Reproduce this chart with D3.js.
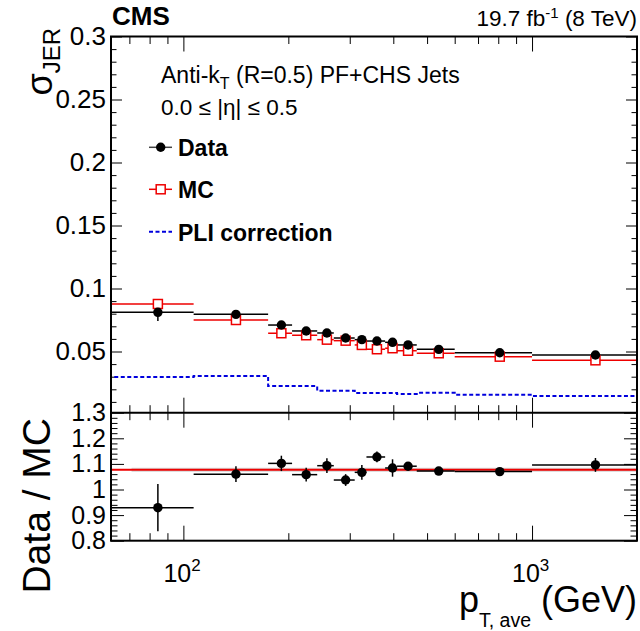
<!DOCTYPE html>
<html>
<head>
<meta charset="utf-8">
<script src="https://cdn.jsdelivr.net/npm/d3@7/dist/d3.min.js"></script>
<style>
  body { margin: 0; background: #fff; }
  text { font-family: 'Liberation Sans', Arial, Helvetica, sans-serif; fill: #000; }
</style>
</head>
<body>
<div id="chart"></div>
<script>
// pT,ave bins (GeV) and mean pT of each bin
const binEdges = [62, 107, 175, 205, 242, 270, 310, 335, 379, 410, 467, 600, 1000, 2000]
const ptMean = [84.5, 141.5, 191, 225, 258, 292, 325, 359, 398, 441, 540, 808, 1520]

// sigma_JER, data and MC
const dataJER = [0.0811, 0.0795, 0.0710, 0.0663, 0.0647, 0.0607, 0.0594, 0.0583, 0.0573, 0.0552, 0.0517, 0.0490, 0.0472]
const dataErr = [0.0069, 0.0015, 0.0012, 0.0012, 0.0012, 0.0010, 0.0012, 0.0010, 0.0014, 0.0008, 0.0006, 0.0006, 0.0012]
const mcJER = [0.0877, 0.0750, 0.0645, 0.0629, 0.0594, 0.0586, 0.0552, 0.0518, 0.0526, 0.0506, 0.0486, 0.0459, 0.0430]

// PLI correction
const pliJER = [0.0298, 0.0306, 0.0226, 0.0226, 0.0189, 0.0189, 0.0171, 0.0171, 0.0171, 0.0163, 0.0172, 0.0157, 0.0147]

// Data / MC
const ratio = [0.929, 1.060, 1.102, 1.058, 1.093, 1.037, 1.067, 1.127, 1.084, 1.091, 1.072, 1.070, 1.096]
const ratioErr = [0.092, 0.031, 0.030, 0.027, 0.029, 0.023, 0.029, 0.021, 0.034, 0.016, 0.010, 0.010, 0.027]
const ratioFit = 1.077

const yTicksTop = [0.05, 0.1, 0.15, 0.2, 0.25, 0.3]
const yTicksBot = [0.8, 0.9, 1, 1.1, 1.2, 1.3]
const xMinor = [70, 80, 90, 200, 300, 400, 500, 600, 700, 800, 900]
const xMajor = [100, 1000]

const W = 640
const H = 631
const padL = 111
const padR = 637
const padT = 36.5
const yMid = 412.7
const padB = 540.7

const svg = d3
  .select('#chart')
  .append('svg')
  .attr('width', W)
  .attr('height', H)

const x = d3.scaleLog().domain([62, 2000]).range([padL, padR])
const yTop = d3.scaleLinear().domain([0.3 - (yMid - padT) / 1260, 0.3]).range([yMid, padT])
const yBot = d3.scaleLinear().domain([0.8, 1.3]).range([padB, yMid])

const red = '#ee0000'
const blue = '#0000dd'

// ---- ticks (ROOT style, inside the frame) ----
function ticks(g, axis) {
  g.call(axis)
  g.select('.domain').remove()
  g.selectAll('line').attr('stroke', '#000').attr('stroke-width', 1)
}

const topMinor = d3.range(1, 30).map(d => d / 100).filter(d => !yTicksTop.includes(+d.toFixed(2)))
const botMinor = d3.range(40, 66).map(d => d / 50).filter(d => Math.abs(d * 10 - Math.round(d * 10)) > 1e-6)

// left / right y ticks, upper panel
svg.append('g').attr('transform', `translate(${padL},0)`)
  .call(g => ticks(g, d3.axisLeft(yTop).tickValues(topMinor).tickSize(-5.5).tickFormat('')))
svg.append('g').attr('transform', `translate(${padL},0)`)
  .call(g => ticks(g, d3.axisLeft(yTop).tickValues(yTicksTop).tickSize(-11).tickFormat('')))
svg.append('g').attr('transform', `translate(${padR},0)`)
  .call(g => ticks(g, d3.axisRight(yTop).tickValues(topMinor).tickSize(-5.5).tickFormat('')))
svg.append('g').attr('transform', `translate(${padR},0)`)
  .call(g => ticks(g, d3.axisRight(yTop).tickValues(yTicksTop).tickSize(-11).tickFormat('')))

// lower panel y ticks
svg.append('g').attr('transform', `translate(${padL},0)`)
  .call(g => ticks(g, d3.axisLeft(yBot).tickValues(botMinor).tickSize(-6.5).tickFormat('')))
svg.append('g').attr('transform', `translate(${padL},0)`)
  .call(g => ticks(g, d3.axisLeft(yBot).tickValues(yTicksBot).tickSize(-13).tickFormat('')))
svg.append('g').attr('transform', `translate(${padR},0)`)
  .call(g => ticks(g, d3.axisRight(yBot).tickValues(botMinor).tickSize(-6.5).tickFormat('')))
svg.append('g').attr('transform', `translate(${padR},0)`)
  .call(g => ticks(g, d3.axisRight(yBot).tickValues(yTicksBot).tickSize(-13).tickFormat('')))

// x ticks on each horizontal frame line
const xLines = [[padT, 'down'], [yMid, 'up'], [yMid, 'down'], [padB, 'up']]
xLines.forEach(([yy, dir]) => {
  const mk = dir === 'down' ? d3.axisTop : d3.axisBottom
  svg.append('g').attr('transform', `translate(0,${yy})`)
    .call(g => ticks(g, mk(x).tickValues(xMinor).tickSize(-7.5).tickFormat('')))
  svg.append('g').attr('transform', `translate(0,${yy})`)
    .call(g => ticks(g, mk(x).tickValues(xMajor).tickSize(-15).tickFormat('')))
})

// y tick labels
svg.append('g').attr('transform', `translate(${padL},0)`)
  .call(d3.axisLeft(yTop).tickValues(yTicksTop).tickSize(0).tickPadding(5).tickFormat(d3.format('')))
  .call(g => g.select('.domain').remove())
  .selectAll('text').attr('font-size', 26).attr('font-family', null)
svg.append('g').attr('transform', `translate(${padL},0)`)
  .call(d3.axisLeft(yBot).tickValues(yTicksBot).tickSize(0).tickPadding(5).tickFormat(d3.format('')))
  .call(g => g.select('.domain').remove())
  .selectAll('text').attr('font-size', 25).attr('font-family', null)

// x tick labels 10^n
xMajor.forEach(v => {
  const t = svg.append('text')
    .attr('x', x(v) - 20)
    .attr('y', 582)
    .attr('font-size', 25)
  t.append('tspan').text('10')
  t.append('tspan').attr('dy', -11).attr('font-size', 17).text(Math.round(Math.log10(v)))
})

// ---- upper panel ----
const upper = svg.append('g')
upper.append('defs').append('clipPath').attr('id', 'clipTop')
  .append('rect').attr('x', padL).attr('y', padT).attr('width', padR - padL).attr('height', yMid - padT)

// PLI correction step line
const pliPts = [[binEdges[0], yTop.domain()[0]]]
pliJER.forEach((v, i) => {
  pliPts.push([binEdges[i], v])
  pliPts.push([binEdges[i + 1], v])
})
upper.append('path')
  .datum(pliPts)
  .attr('clip-path', 'url(#clipTop)')
  .attr('fill', 'none')
  .attr('stroke', blue)
  .attr('stroke-width', 2)
  .attr('stroke-dasharray', '4,2.5')
  .attr('d', d3.line().x(d => x(d[0])).y(d => yTop(d[1])))

// data bins
const bins = d3.range(ptMean.length)
upper.selectAll('.dbin').data(bins).enter().append('line')
  .attr('x1', i => x(binEdges[i])).attr('x2', i => x(binEdges[i + 1]))
  .attr('y1', i => yTop(dataJER[i])).attr('y2', i => yTop(dataJER[i]))
  .attr('stroke', '#000').attr('stroke-width', 1.5)
upper.selectAll('.mbin').data(bins).enter().append('line')
  .attr('x1', i => x(binEdges[i])).attr('x2', i => x(binEdges[i + 1]))
  .attr('y1', i => yTop(mcJER[i])).attr('y2', i => yTop(mcJER[i]))
  .attr('stroke', red).attr('stroke-width', 1.5)
upper.selectAll('.derr').data(bins).enter().append('line')
  .attr('x1', i => x(ptMean[i])).attr('x2', i => x(ptMean[i]))
  .attr('y1', i => yTop(dataJER[i] - dataErr[i])).attr('y2', i => yTop(dataJER[i] + dataErr[i]))
  .attr('stroke', '#000').attr('stroke-width', 1.5)
upper.selectAll('.msq').data(bins).enter().append('rect')
  .attr('x', i => x(ptMean[i]) - 4.5).attr('y', i => yTop(mcJER[i]) - 4.5)
  .attr('width', 9).attr('height', 9)
  .attr('fill', '#fff').attr('stroke', red).attr('stroke-width', 1.5)
upper.selectAll('.dpt').data(bins).enter().append('circle')
  .attr('cx', i => x(ptMean[i])).attr('cy', i => yTop(dataJER[i]))
  .attr('r', 4.7).attr('fill', '#000')

// ---- lower panel ----
const lower = svg.append('g')
lower.append('rect')
  .attr('x', x(71)).attr('y', yBot(ratioFit + 0.008))
  .attr('width', x(2000) - x(71)).attr('height', yBot(ratioFit - 0.008) - yBot(ratioFit + 0.008))
  .attr('fill', '#d8d8d8')
lower.append('line')
  .attr('x1', x(62)).attr('x2', x(2000))
  .attr('y1', yBot(ratioFit)).attr('y2', yBot(ratioFit))
  .attr('stroke', red).attr('stroke-width', 2)
lower.selectAll('.rbin').data(bins).enter().append('line')
  .attr('x1', i => x(binEdges[i])).attr('x2', i => x(binEdges[i + 1]))
  .attr('y1', i => yBot(ratio[i])).attr('y2', i => yBot(ratio[i]))
  .attr('stroke', '#000').attr('stroke-width', 1.5)
lower.selectAll('.rerr').data(bins).enter().append('line')
  .attr('x1', i => x(ptMean[i])).attr('x2', i => x(ptMean[i]))
  .attr('y1', i => yBot(ratio[i] - ratioErr[i])).attr('y2', i => yBot(ratio[i] + ratioErr[i]))
  .attr('stroke', '#000').attr('stroke-width', 1.5)
lower.selectAll('.rpt').data(bins).enter().append('circle')
  .attr('cx', i => x(ptMean[i])).attr('cy', i => yBot(ratio[i]))
  .attr('r', 4.7).attr('fill', '#000')

// frames
svg.append('rect').attr('x', padL).attr('y', padT).attr('width', padR - padL).attr('height', padB - padT)
  .attr('fill', 'none').attr('stroke', '#000').attr('stroke-width', 2)
svg.append('line').attr('x1', padL).attr('x2', padR).attr('y1', yMid).attr('y2', yMid)
  .attr('stroke', '#000').attr('stroke-width', 2)

// ---- texts ----
svg.append('text').attr('x', 112).attr('y', 25).attr('font-size', 26).attr('font-weight', 'bold').text('CMS')
const lumi = svg.append('text').attr('x', 637).attr('y', 26).attr('font-size', 22.5).attr('text-anchor', 'end')
lumi.append('tspan').text('19.7 fb')
lumi.append('tspan').attr('dy', -8).attr('font-size', 15).text('-1')
lumi.append('tspan').attr('dy', 8).text(' (8 TeV)')

const l1 = svg.append('text').attr('x', 161).attr('y', 82.5).attr('font-size', 23)
l1.append('tspan').text('Anti-k')
l1.append('tspan').attr('dy', 6).attr('font-size', 16).text('T')
l1.append('tspan').attr('dy', -6).text(' (R=0.5) PF+CHS Jets')
svg.append('text').attr('x', 161).attr('y', 115).attr('font-size', 22.5).text('0.0 \u2264 |\u03B7| \u2264 0.5')

// legend
const legY = [147.3, 189.3, 231.7]
const legNames = ['Data', 'MC', 'PLI correction']
legNames.forEach((n, i) => {
  svg.append('text').attr('x', 178).attr('y', legY[i] + 9).attr('font-size', 23).attr('font-weight', 'bold').text(n)
})
svg.append('line').attr('x1', 149).attr('x2', 172).attr('y1', legY[0]).attr('y2', legY[0]).attr('stroke', '#444').attr('stroke-width', 1.5)
svg.append('circle').attr('cx', 160.7).attr('cy', legY[0]).attr('r', 4.7).attr('fill', '#000')
svg.append('line').attr('x1', 149).attr('x2', 172).attr('y1', legY[1]).attr('y2', legY[1]).attr('stroke', red).attr('stroke-width', 1.5)
svg.append('rect').attr('x', 156.2).attr('y', legY[1] - 4.5).attr('width', 9).attr('height', 9)
  .attr('fill', '#fff').attr('stroke', red).attr('stroke-width', 1.5)
svg.append('line').attr('x1', 149).attr('x2', 172).attr('y1', legY[2]).attr('y2', legY[2])
  .attr('stroke', blue).attr('stroke-width', 2).attr('stroke-dasharray', '4,2.5')

// axis titles
const yt = svg.append('text').attr('transform', 'translate(52,28) rotate(-90)').attr('text-anchor', 'end').attr('font-size', 36)
yt.append('tspan').text('\u03C3')
yt.append('tspan').attr('dy', 8).attr('font-size', 24).text('JER')
svg.append('text').attr('transform', 'translate(50,418) rotate(-90)').attr('text-anchor', 'end').attr('font-size', 39).text('Data / MC')

const xt = svg.append('text').attr('x', 637).attr('y', 612).attr('text-anchor', 'end').attr('font-size', 36)
xt.append('tspan').text('p')
xt.append('tspan').attr('dy', 15).attr('font-size', 19.5).text('T, ave')
xt.append('tspan').attr('dy', -15).text('\u00A0(GeV)')
</script>
</body>
</html>
